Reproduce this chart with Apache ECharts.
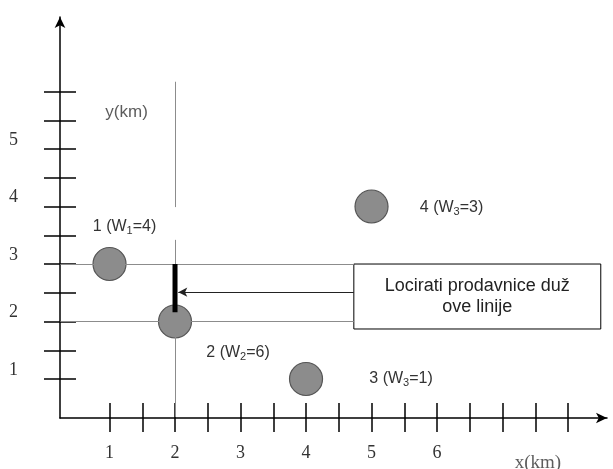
<!DOCTYPE html>
<html>
<head>
<meta charset="utf-8">
<script src="https://cdn.jsdelivr.net/npm/echarts@6/dist/echarts.min.js"></script>
<style>html,body{margin:0;padding:0;background:#fff;}#c{width:613px;height:469px;}</style>
</head>
<body>
<div id="c"></div>
<script>
// ---- data ----
const storeNames = ['1', '2', '3', '4'];
const storeX = [1, 2, 4, 5];
const storeY = [3, 2, 1, 4];
const weightIndex = [1, 2, 3, 3];
const weightValue = [4, 6, 1, 3];
const xTickValues = [1, 1.5, 2, 2.5, 3, 3.5, 4, 4.5, 5, 5.5, 6, 6.5, 7, 7.5, 8];
const xLabelValues = [1, 2, 3, 4, 5, 6];
const yTickValues = [1, 1.5, 2, 2.5, 3, 3.5, 4, 4.5, 5, 5.5, 6];
const yLabelValues = [1, 2, 3, 4, 5];
const guideX = 2;               // vertical guide at x = 2
const guideYs = [3, 2];         // horizontal guides
const vGuideTop = [6.17, 3.99]; // upper segment of vertical guide
const vGuideLow = [3.42, 0.34]; // lower segment
const boxX = [4.73, 8.5];
const boxY = [1.87, 3.0];
const segmentY = [3, 2.16];     // thick "locate along this line" segment
const arrowY = 2.51;
const arrowX = [4.73, 2.05];
const boxText = 'Locirati prodavnice duž\nove linije';
const yName = 'y(km)';
const xName = 'x(km)';
const yNamePos = [1.26, 5.63];
const xNamePos = [7.54, -0.46];

// ---- chart ----
const chart = echarts.init(document.getElementById('c'), null, {renderer: 'canvas'});
const sans = 'Liberation Sans, Arial, sans-serif';
const serif = 'Liberation Serif, Times New Roman, serif';

const labelOffsets = [[15, -37], [63, 31], [95, 0], [80, 1]];
const storeData = storeX.map((x, i) => ({
  value: [x, storeY[i]],
  label: {
    show: true,
    position: 'inside',
    offset: labelOffsets[i],
    formatter: '{t|' + storeNames[i] + ' (W}{s|' + weightIndex[i] + '}{t|=' + weightValue[i] + ')}'
  }
}));

const guideLines = [];
guideYs.forEach(y => guideLines.push([{coord: [0.25, y]}, {coord: [boxX[0], y]}]));
guideLines.push([{coord: [guideX, vGuideTop[0]]}, {coord: [guideX, vGuideTop[1]]}]);
guideLines.push([{coord: [guideX, vGuideLow[0]]}, {coord: [guideX, vGuideLow[1]]}]);

const xBase = {type: 'value', min: 0.244, max: 8.595, gridIndex: 0, splitLine: {show: false}};
const yBase = {type: 'value', min: 0.322, max: 7.296, gridIndex: 0, splitLine: {show: false}};

chart.setOption({
  animation: false,
  grid: {left: 60, right: 6, top: 17, bottom: 51},
  xAxis: [
    Object.assign({}, xBase, {
      position: 'bottom',
      axisLine: {show: true, onZero: false, symbol: ['none', 'arrow'], symbolSize: [8, 11], lineStyle: {color: '#000', width: 1.5}},
      axisTick: {show: true, inside: false, length: 14, customValues: xTickValues, lineStyle: {color: '#000', width: 1.5}},
      axisLabel: {show: true, customValues: xLabelValues, margin: 26, fontFamily: serif, fontSize: 18, color: '#333'}
    }),
    Object.assign({}, xBase, {
      position: 'bottom',
      axisLine: {show: false, onZero: false},
      axisTick: {show: true, inside: true, length: 15, customValues: xTickValues, lineStyle: {color: '#000', width: 1.5}},
      axisLabel: {show: false}
    })
  ],
  yAxis: [
    Object.assign({}, yBase, {
      position: 'left',
      axisLine: {show: true, onZero: false, symbol: ['none', 'arrow'], symbolSize: [8, 11], lineStyle: {color: '#000', width: 1.5}},
      axisTick: {show: true, inside: false, length: 16, customValues: yTickValues, lineStyle: {color: '#000', width: 1.5}},
      axisLabel: {show: true, customValues: yLabelValues, margin: 42, verticalAlign: 'bottom', fontFamily: serif, fontSize: 18, color: '#333'}
    }),
    Object.assign({}, yBase, {
      position: 'left',
      axisLine: {show: false, onZero: false},
      axisTick: {show: true, inside: true, length: 16, customValues: yTickValues, lineStyle: {color: '#000', width: 1.5}},
      axisLabel: {show: false}
    })
  ],
  series: [
    {
      name: 'guides', type: 'line', data: [], xAxisIndex: 0, yAxisIndex: 0, z: 1,
      markLine: {
        silent: true, symbol: 'none', animation: false,
        label: {show: false},
        lineStyle: {color: '#8c8c8c', width: 1, type: 'solid'},
        data: guideLines
      }
    },
    {
      name: 'box', type: 'line', data: [], z: 2,
      markArea: {
        silent: true,
        itemStyle: {color: '#fff', opacity: 1, borderColor: '#000', borderWidth: 1},
        label: {show: true, position: 'inside', color: '#222', fontFamily: sans, fontSize: 18, lineHeight: 21, align: 'center'},
        data: [[{coord: [boxX[0], boxY[1]], name: boxText}, {coord: [boxX[1], boxY[0]]}]]
      }
    },
    {
      name: 'arrow', type: 'line', data: [], z: 3,
      markLine: {
        silent: true, symbol: ['none', 'arrow'], symbolSize: [7, 9],
        label: {show: false},
        lineStyle: {color: '#222', width: 1.2, type: 'solid'},
        data: [[{coord: [arrowX[0], arrowY]}, {coord: [arrowX[1], arrowY]}]]
      }
    },
    {
      name: 'stores', type: 'scatter', z: 4, symbolSize: 33,
      itemStyle: {color: '#8c8c8c', borderColor: '#555', borderWidth: 1.2, opacity: 1},
      label: {
        color: '#333', fontFamily: sans, fontSize: 16,
        rich: {
          t: {fontSize: 16, fontFamily: sans, color: '#333'},
          s: {fontSize: 11, verticalAlign: 'bottom', padding: [8, 0, 0, 0], fontFamily: sans, color: '#333'}
        }
      },
      data: storeData
    },
    {
      name: 'segment', type: 'line', z: 5, symbol: 'none',
      lineStyle: {color: '#000', width: 5},
      data: segmentY.map(y => [guideX, y])
    },
    {
      name: 'names', type: 'scatter', z: 6, symbolSize: 0, clip: false, silent: true,
      data: [
        {value: yNamePos, label: {show: true, position: 'inside', formatter: yName, fontFamily: sans, fontSize: 17, color: '#333'}},
        {value: xNamePos, label: {show: true, position: 'inside', formatter: xName, fontFamily: serif, fontSize: 19, color: '#333'}}
      ]
    }
  ]
});
</script>
</body>
</html>
